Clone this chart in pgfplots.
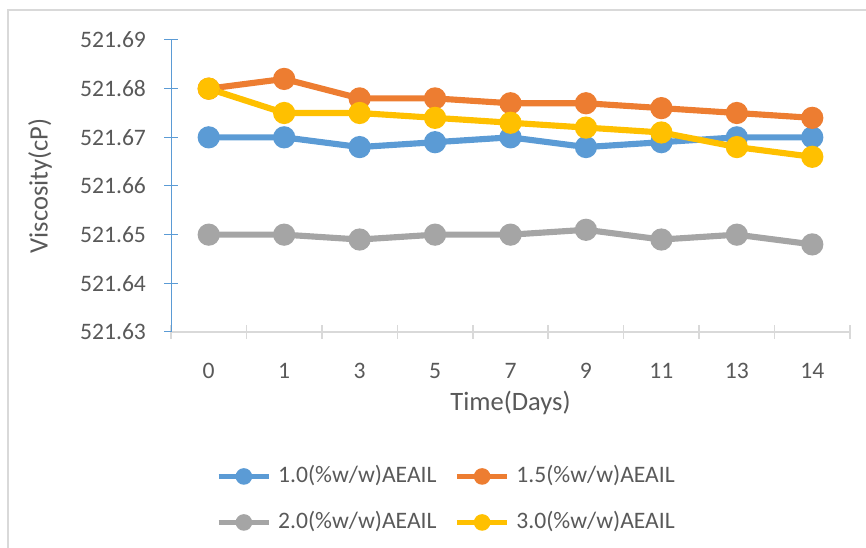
\documentclass[border=0pt]{standalone}
\usepackage{fontspec}
\setmainfont{Carlito}
\usepackage{pgfplots}
\pgfplotsset{compat=1.18}
\definecolor{cblue}{HTML}{5B9BD5}
\definecolor{corange}{HTML}{ED7D31}
\definecolor{cgray}{HTML}{A5A5A5}
\definecolor{cgold}{HTML}{FFC000}
\definecolor{axgray}{HTML}{D9D9D9}
\definecolor{txt}{HTML}{595959}
\begin{document}
\begin{tikzpicture}
\useasboundingbox (0,0) rectangle (649.5pt,411pt);
\draw[axgray, line width=1.1pt] (652pt,403.5pt) -- (6pt,403.5pt) -- (6pt,-2pt);
\begin{axis}[
  at={(128.25pt,162pt)}, anchor=south west,
  scale only axis, width=509.25pt, height=219pt,
  xmin=-0.5, xmax=8.5, ymin=521.63, ymax=521.69,
  axis x line=bottom, axis y line=left,
  x axis line style={draw=axgray, line width=1.1pt, -},
  y axis line style={draw=cblue, line width=0.75pt, -},
  xtick={0,1,2,3,4,5,6,7,8},
  xticklabels={0,1,3,5,7,9,11,13,14},
  minor xtick={-0.5,0.5,1.5,2.5,3.5,4.5,5.5,6.5,7.5,8.5},
  major x tick style={draw=none},
  minor x tick style={draw=axgray, line width=1.1pt},
  ytick={521.63,521.64,521.65,521.66,521.67,521.68,521.69},
  yticklabels={521.63,521.64,521.65,521.66,521.67,521.68,521.69},
  major y tick style={draw=cblue, line width=0.75pt},
  tick align=center, major tick length=10.5pt, minor tick length=10.5pt,
  tick label style={font=\fontsize{17.7}{21}\selectfont, text=txt},
  /pgf/number format/assume math mode=true,
  xticklabel style={yshift=-15pt},
  yticklabel style={xshift=-10pt},
  xlabel={Time(Days)}, ylabel={Viscosity(cP)},
  label style={font=\fontsize{19.9}{24}\selectfont, text=txt},
  xlabel style={at={(axis description cs:0.5,-0.243)}, anchor=center},
  ylabel style={at={(axis description cs:-0.193,0.5)}, anchor=center},
  clip=false,
  every axis plot/.append style={line width=4.6pt, mark=*, mark size=6pt},
  legend image code/.code={\draw[mark repeat=2,mark phase=2,#1,line width=3.4pt,mark size=4.5pt] plot coordinates {(0pt,0pt) (19pt,0pt) (38pt,0pt)};},
  legend columns=2,
  legend style={at={(axis description cs:0.0663,-0.455)}, anchor=north west,
    draw=none, fill=none, inner sep=0pt,
    font=\fontsize{17.7}{21}\selectfont, text=txt,
    column sep=5pt, row sep=17.5pt,
    /tikz/every even column/.append style={column sep=13.5pt},
    nodes={inner sep=0pt, text height=13pt, text depth=4pt}},
]
\addplot[cblue, mark options={fill=cblue, draw=cblue}] coordinates {
  (0,521.670) (1,521.670) (2,521.668) (3,521.669) (4,521.670)
  (5,521.668) (6,521.669) (7,521.670) (8,521.670)};
\addlegendentry{1.0(\%w/w)AEAIL}
\addplot[corange, mark options={fill=corange, draw=corange}] coordinates {
  (0,521.680) (1,521.682) (2,521.678) (3,521.678) (4,521.677)
  (5,521.677) (6,521.676) (7,521.675) (8,521.674)};
\addlegendentry{1.5(\%w/w)AEAIL}
\addplot[cgray, mark options={fill=cgray, draw=cgray}] coordinates {
  (0,521.650) (1,521.650) (2,521.649) (3,521.650) (4,521.650)
  (5,521.651) (6,521.649) (7,521.650) (8,521.648)};
\addlegendentry{2.0(\%w/w)AEAIL}
\addplot[cgold, mark options={fill=cgold, draw=cgold}] coordinates {
  (0,521.680) (1,521.675) (2,521.675) (3,521.674) (4,521.673)
  (5,521.672) (6,521.671) (7,521.668) (8,521.666)};
\addlegendentry{3.0(\%w/w)AEAIL}
\end{axis}
\end{tikzpicture}
\end{document}
